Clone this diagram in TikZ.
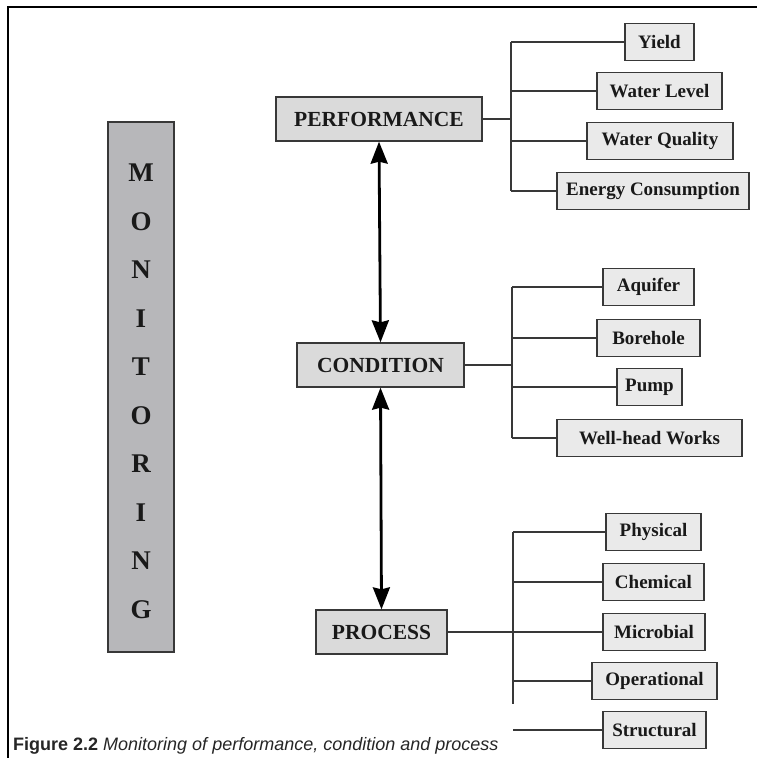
\documentclass[tikz,border=0pt]{standalone}
\usepackage{fontspec}
\setmainfont{Liberation Serif}
\setsansfont{Liberation Sans}
\usetikzlibrary{arrows.meta}
\definecolor{mainfill}{HTML}{DADADA}
\definecolor{subfill}{HTML}{EAEAEA}
\definecolor{sidefill}{HTML}{B7B7BA}
\definecolor{edge}{HTML}{383838}
\tikzset{
  boxbase/.style={draw=edge, line width=1.3pt, inner sep=0pt, align=center, text=black!90},
  mainbox/.style={boxbase, fill=mainfill, minimum height=44pt, font=\fontsize{21.5}{24}\selectfont\bfseries},
  subbox/.style={boxbase, fill=subfill, minimum height=37pt, font=\fontsize{19}{22}\selectfont\bfseries},
  sidebox/.style={boxbase, fill=sidefill},
  letter/.style={font=\fontsize{27}{30}\selectfont\bfseries, text=black!90, inner sep=0pt},
  conn/.style={draw=edge, line width=1.2pt},
  headtip/.tip={Stealth[length=22pt,width=17pt,inset=2pt]},
  twoway/.style={line width=2.8pt, headtip-headtip},
}
\begin{document}
\begin{tikzpicture}[x=1pt,y=-1pt]
\useasboundingbox (0,0) rectangle (757,758);

% outer frame (top and left rules)
\draw[line width=2.5pt] (8,758) -- (8,7) -- (757,7);

% vertical MONITORING banner
\node[sidebox, minimum width=66pt, minimum height=530pt] (mon) at (141,387) {};
\foreach \ch [count=\i from 0] in {M,O,N,I,T,O,R,I,N,G}
  \node[letter] (mon\i) at (141,{173+48.5*\i}) {\ch};

% three main categories
\node[mainbox, minimum width=206pt] (pf) at (379,119) {PERFORMANCE};
\node[mainbox, minimum width=167pt] (cd) at (380.5,365) {CONDITION};
\node[mainbox, minimum width=131pt] (pr) at (381.5,632) {PROCESS};

% performance items
\node[subbox, minimum width=69pt]  (yield)  at (659.5,42)  {Yield};
\node[subbox, minimum width=125pt] (wlevel) at (659.5,91)  {Water Level};
\node[subbox, minimum width=146pt] (wqual)  at (660,141)   {Water Quality};
\node[subbox, minimum width=192pt] (energy) at (653,191)   {Energy Consumption};

% condition items
\node[subbox, minimum width=91pt]  (aquif)  at (648.5,287) {Aquifer};
\node[subbox, minimum width=103pt] (bore)   at (648.5,338) {Borehole};
\node[subbox, minimum width=65pt]  (pump)   at (649.5,387) {Pump};
\node[subbox, minimum width=185pt] (whead)  at (649.5,438) {Well-head Works};

% process items
\node[subbox, minimum width=95pt]  (phys)   at (653.5,532) {Physical};
\node[subbox, minimum width=101pt] (chem)   at (653.5,582) {Chemical};
\node[subbox, minimum width=102pt] (micro)  at (654,632)   {Microbial};
\node[subbox, minimum width=125pt] (oper)   at (654.5,681) {Operational};
\node[subbox, minimum width=103pt] (struct) at (654.5,730) {Structural};

% two-way links between the main categories
\draw[twoway] (pf.south) -- (cd.north);
\draw[twoway] (cd.south) -- (pr.north);

% performance tree
\coordinate (tp1) at (511,42);
\coordinate (tp2) at (511,191);
\draw[conn] (tp1) -- (tp2);
\draw[conn] (pf.east) -- (pf.east -| tp1);
\foreach \n in {yield,wlevel,wqual,energy}
  \draw[conn] (\n.west) -- (\n.west -| tp1);

% condition tree
\coordinate (tc1) at (512,287);
\coordinate (tc2) at (512,438);
\draw[conn] (tc1) -- (tc2);
\draw[conn] (cd.east) -- (cd.east -| tc1);
\foreach \n in {aquif,bore,pump,whead}
  \draw[conn] (\n.west) -- (\n.west -| tc1);

% process tree (trunk stops above the caption strip)
\coordinate (tr1) at (513,532);
\coordinate (tr2) at (513,704);
\draw[conn] (tr1) -- (tr2);
\draw[conn] (pr.east) -- (pr.east -| tr1);
\foreach \n in {phys,chem,micro,oper,struct}
  \draw[conn] (\n.west) -- (\n.west -| tr1);

% caption
\node[anchor=base west, inner sep=0pt, font=\sffamily\fontsize{18}{20}\selectfont, text=black!85] (cap) at (13,750)
  {\textbf{Figure 2.2} \textit{Monitoring of performance, condition and process}};
\end{tikzpicture}
\end{document}
